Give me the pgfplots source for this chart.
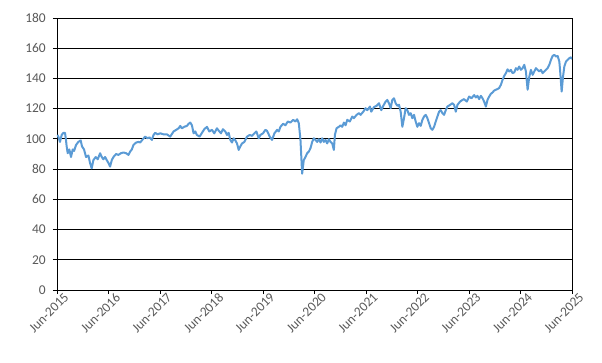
\documentclass[border=0pt]{standalone}
\usepackage{pgfplots}
\pgfplotsset{compat=1.18}
\usepackage{fontspec}
\setmainfont{Carlito}
\usetikzlibrary{calc}
\definecolor{series}{RGB}{91,155,213}
\definecolor{ticktext}{RGB}{89,89,89}
\begin{document}
\begin{tikzpicture}[x=1bp,y=1bp]
\begin{axis}[
  name=ax,
  scale only axis,
  width=515bp, height=272bp,
  xmin=0, xmax=10, ymin=0, ymax=180,
  xtick={0,1,2,3,4,5,6,7,8,9,10},
  xticklabels={Jun-2015,Jun-2016,Jun-2017,Jun-2018,Jun-2019,Jun-2020,Jun-2021,Jun-2022,Jun-2023,Jun-2024,Jun-2025},
  ytick={0,20,40,60,80,100,120,140,160,180},
  ymajorgrids,
  grid style={black, line width=0.9bp},
  axis line style={black, line width=0.9bp},
  tick style={black, line width=0.9bp},
  tick align=outside,
  major tick length=4bp,
  xtick pos=bottom, ytick pos=left,
  /pgf/number format/assume math mode=true,
  tick label style={font=\fontsize{13.5}{15}\selectfont, text=ticktext},
  xticklabel style={rotate=45, anchor=north east, inner sep=0bp, xshift=6bp, yshift=-3bp},
  yticklabel style={inner sep=2bp, xshift=-5bp},
  clip=true,
]
\addplot[series, line width=2bp, line join=round] coordinates {
(0.006,102.6)(0.026,101.5)(0.058,98)(0.091,102.6)(0.123,104)(0.156,104)(0.175,99)(0.188,95)(0.208,90.5)(0.240,93)
(0.272,88)(0.305,93)(0.331,92)(0.370,96)(0.415,98)(0.460,99)(0.486,95)(0.525,93)(0.564,88)(0.610,89)
(0.642,84)(0.674,80.5)(0.707,86)(0.752,88)(0.791,86.5)(0.837,90.5)(0.869,88)(0.901,86.5)(0.934,88)(0.966,86)
(0.999,84)(1.031,81.7)(1.064,86)(1.096,88)(1.148,90)(1.193,89.4)(1.239,90.5)(1.291,91)(1.342,90.5)(1.388,89.4)
(1.420,91.6)(1.453,93)(1.485,96)(1.537,97.6)(1.582,98)(1.615,97.6)(1.667,99.8)(1.712,101.5)(1.757,100.4)(1.796,101)
(1.842,99.3)(1.874,102.6)(1.907,104)(1.952,103)(2.004,103.7)(2.069,103)(2.134,103)(2.198,101.5)(2.263,104.9)(2.315,106)
(2.361,107)(2.393,108.6)(2.425,107)(2.471,108)(2.523,108.6)(2.555,110)(2.588,110.8)(2.620,109)(2.652,103.7)(2.685,104.9)
(2.717,102.6)(2.769,101.5)(2.815,104)(2.860,106.4)(2.912,108)(2.957,104.9)(3.009,106)(3.054,103.7)(3.106,107)(3.139,105.5)
(3.184,103.7)(3.223,106.4)(3.268,104.9)(3.301,102.6)(3.333,104)(3.366,99.3)(3.398,97.6)(3.431,100.4)(3.463,99)(3.495,97)
(3.528,92.7)(3.560,95)(3.593,97)(3.638,98)(3.690,101.5)(3.742,102.6)(3.787,102)(3.833,103.7)(3.872,104.9)(3.917,100.4)
(3.949,102.6)(4.001,103.7)(4.047,106)(4.079,105.3)(4.131,101.5)(4.176,99.3)(4.222,103.7)(4.274,106)(4.306,104.9)(4.339,108)
(4.390,110)(4.436,109)(4.481,111.5)(4.533,110.8)(4.585,112.6)(4.630,111.5)(4.663,113)(4.695,110.4)(4.715,103.7)
(4.728,99)(4.760,77)(4.792,86)(4.825,88)(4.857,90.5)(4.890,91.6)(4.922,93.8)(4.955,98)(4.987,100.4)(5.019,99.3)
(5.052,98)(5.084,99.8)(5.117,97.6)(5.149,100.4)(5.182,98)(5.214,99.3)(5.246,97)(5.279,99.8)(5.311,98)(5.344,97)
(5.376,92.7)(5.396,102.6)(5.428,107)(5.473,108)(5.506,109)(5.538,108)(5.571,110.8)(5.603,109)(5.636,112.6)(5.687,111.5)
(5.733,114.8)(5.765,113.7)(5.817,115.9)(5.863,117)(5.895,115.9)(5.947,118)(5.992,120.3)(6.025,119)(6.077,121.4)(6.102,118)
(6.154,121)(6.206,121.9)(6.252,123.6)(6.297,119)(6.336,121.9)(6.381,124.7)(6.414,125.8)(6.446,123.6)(6.479,120.3)(6.511,125.8)
(6.543,126.9)(6.576,123.6)(6.608,121.9)(6.641,122.6)(6.673,118)(6.706,108)(6.738,113.7)(6.770,120.3)(6.803,119)(6.835,115.9)
(6.868,117)(6.900,113.7)(6.933,115.9)(6.965,111.5)(6.997,108)(7.030,110.4)(7.062,108.6)(7.095,112.6)(7.127,114.8)(7.160,115.9)
(7.192,113.7)(7.224,110.4)(7.257,107)(7.289,106)(7.322,108)(7.354,111.5)(7.387,114.8)(7.419,118)(7.451,119)(7.484,117)
(7.516,115.9)(7.549,119)(7.581,121.4)(7.633,122.5)(7.678,123.6)(7.711,122.5)(7.743,118)(7.776,122.5)(7.827,124.7)(7.873,125.8)
(7.905,126.3)(7.957,124.7)(8.003,128)(8.048,126.9)(8.100,129)(8.132,127.4)(8.165,128.5)(8.197,126.3)(8.230,128.5)(8.262,126.9)
(8.294,124.7)(8.327,121.4)(8.359,125.8)(8.392,128)(8.424,129.8)(8.457,130.7)(8.489,132)(8.521,132.5)(8.554,133)(8.586,133.7)
(8.619,135.8)(8.651,139)(8.684,141.7)(8.716,143.5)(8.748,146)(8.781,144.6)(8.813,145.7)(8.846,143.5)(8.878,144)(8.911,146.8)
(8.943,145.7)(8.975,147.9)(9.008,145.7)(9.040,146.8)(9.073,149)(9.105,144.6)(9.138,132.5)(9.170,141)(9.202,145.7)(9.235,142.4)
(9.267,144.6)(9.300,146.8)(9.332,145.7)(9.364,144.6)(9.397,145.7)(9.429,143.5)(9.462,144.6)(9.494,145.7)(9.527,146.8)(9.559,149)
(9.591,152.3)(9.624,154.9)(9.656,155.6)(9.689,154.5)(9.721,154.9)(9.754,151.2)(9.773,143.5)(9.799,131.3)(9.825,141)(9.851,147.9)
(9.883,151.2)(9.916,152.3)(9.948,153.4)(9.981,154)(10.0,152.8)
};
\end{axis}
\pgfresetboundingbox
\path[use as bounding box] ($(ax.south west)+(-57bp,-73bp)$) rectangle ($(ax.north east)+(30bp,18bp)$);
\end{tikzpicture}
\end{document}
